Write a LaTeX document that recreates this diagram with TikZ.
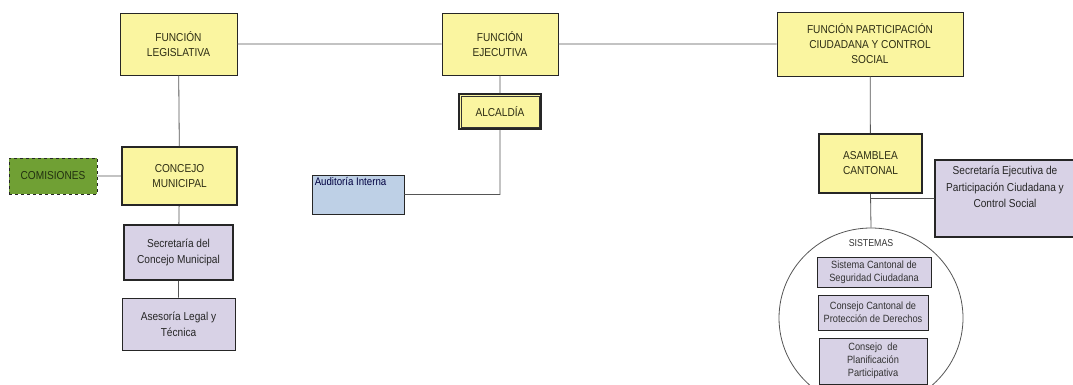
\documentclass[tikz,border=0pt]{standalone}
\usepackage{fontspec}
\setmainfont{Liberation Sans}[FakeStretch=0.88]
\usetikzlibrary{shapes.geometric}
\definecolor{amarillo}{RGB}{250,245,160}
\definecolor{lila}{RGB}{216,210,230}
\definecolor{celeste}{RGB}{190,208,230}
\definecolor{verde}{RGB}{112,160,52}
\definecolor{tinta}{RGB}{45,45,20}
\definecolor{linea}{RGB}{85,85,85}
\tikzset{
caja/.style={draw=black!85,line width=0.9pt,inner sep=1pt,align=center,font=\fontsize{11.5}{15}\selectfont,text=tinta},
funcion/.style={caja,fill=amarillo},
lilabox/.style={caja,fill=lila,font=\fontsize{11.5}{16}\selectfont,text=black!85},
sisbox/.style={caja,fill=lila,line width=0.8pt,font=\fontsize{10.5}{13}\selectfont,text=black!80},
conector/.style={draw=linea,line width=0.8pt}
}
\begin{document}
\begin{tikzpicture}[x=1pt,y=-1pt]
\useasboundingbox (0,0) rectangle (1073,385);
\begin{scope}
\clip (0,0) rectangle (1073,385);
\node[funcion,minimum width=117pt,minimum height=62pt] (fleg) at (178.5,44) {FUNCIÓN\\LEGISLATIVA};
\node[funcion,minimum width=116pt,minimum height=62pt] (fejec) at (500,44) {FUNCIÓN\\EJECUTIVA};
\node[funcion,minimum width=186pt,minimum height=64pt] (fpart) at (870,44) {FUNCIÓN PARTICIPACIÓN\\CIUDADANA Y CONTROL\\SOCIAL};
\node[funcion,line width=1.6pt,minimum width=115pt,minimum height=58pt] (concejo) at (179.5,176) {CONCEJO\\MUNICIPAL};
\node[caja,fill=verde,dashed,minimum width=88pt,minimum height=36pt,text=black!70!verde] (comis) at (53,176) {COMISIONES};
\node[lilabox,line width=1.8pt,minimum width=109pt,minimum height=55pt] (secc) at (178.5,252.5) {Secretaría del\\Concejo Municipal};
\node[lilabox,minimum width=113pt,minimum height=52pt] (ases) at (178.5,324) {Asesoría Legal y\\Técnica};
\node[funcion,line width=1.7pt,minimum width=82pt,minimum height=35pt] (alcal) at (500,111.5) {ALCALDÍA};
\draw[black!80,line width=0.6pt] ([shift={(3pt,-3pt)}]alcal.north west) rectangle ([shift={(-3pt,3pt)}]alcal.south east);
\node[caja,fill=celeste,minimum width=92pt,minimum height=39pt] (audit) at (358,194.5) {};
\node[anchor=north west,inner sep=3pt,font=\fontsize{11}{13}\selectfont,text=black!75!blue] (audittxt) at (audit.north west) {Auditoría Interna};
\node[funcion,line width=1.6pt,minimum width=103pt,minimum height=59pt] (asamb) at (870.5,163.5) {ASAMBLEA\\CANTONAL};
\node[lilabox,line width=1.4pt,minimum width=140pt,minimum height=77pt] (secej) at (1005,198.5) {};
\node[anchor=north,inner sep=0pt,align=center,font=\fontsize{11.5}{16.5}\selectfont,text=black!85] (secejtxt) at ([yshift=-7pt]secej.north) {Secretaría Ejecutiva de\\Participación Ciudadana y\\Control Social};
\node[draw=linea,line width=0.8pt,ellipse,minimum width=184pt,minimum height=180pt] (sist) at (871,318) {};
\node[font=\fontsize{10}{12}\selectfont,text=black!80] (sisttit) at (871,243) {SISTEMAS};
\node[sisbox,minimum width=114pt,minimum height=30pt] (scs) at (874,272) {Sistema Cantonal de\\Seguridad Ciudadana};
\node[sisbox,minimum width=110pt,minimum height=35pt] (ccpd) at (873,312.5) {Consejo Cantonal de\\Protección de Derechos};
\node[sisbox,minimum width=108pt,minimum height=46pt] (cpp) at (873,361) {Consejo\ \ de\\Planificación\\Participativa};
\coordinate (jn) at (asamb.south |- secej.west);
\draw[conector] (fleg)--(fejec) (fejec)--(fpart) (fleg)--(concejo) (comis)--(concejo)
(concejo)--(secc) (secc)--(ases) (fejec)--(alcal) (alcal.south) |- (audit.east)
(fpart)--(asamb) (asamb.south)--(sist.north) (jn)--(secej.west);
\end{scope}
\end{tikzpicture}
\end{document}
